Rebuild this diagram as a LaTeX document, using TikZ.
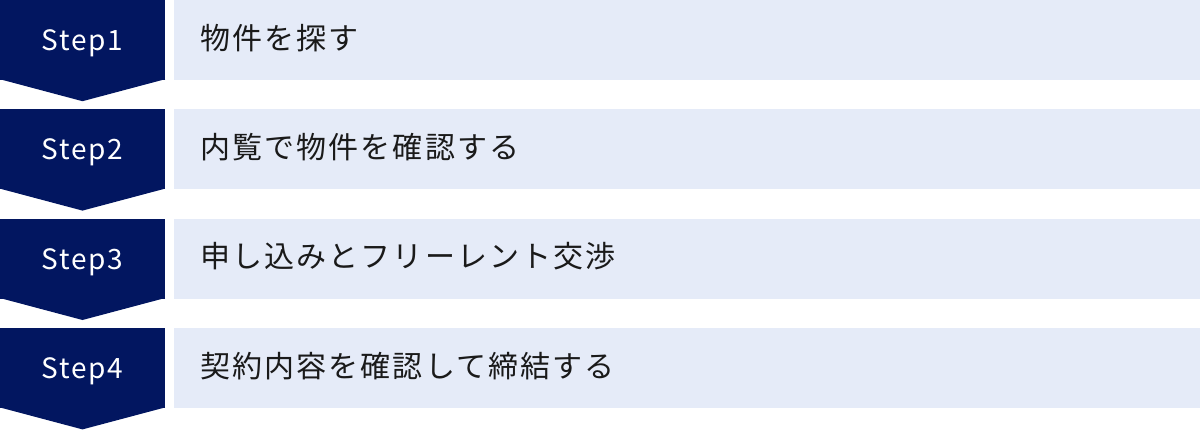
\documentclass[tikz,border=0pt]{standalone}
\usepackage{fontspec}
\usepackage{xcolor}
\usetikzlibrary{positioning}
\setmainfont{Noto Sans CJK JP}
\newfontfamily\stepfont[LetterSpace=6]{Noto Sans CJK JP}
\newfontfamily\itemfont[LetterSpace=7]{Noto Sans CJK JP}
\definecolor{stepnavy}{RGB}{2, 22, 96}
\definecolor{itemblue}{RGB}{229, 235, 248}
\definecolor{itemtext}{RGB}{26, 26, 26}

\tikzset{
  stepbox/.style={fill=stepnavy, text=white, minimum width=165pt, minimum height=80pt, inner sep=0pt, text height=20.5pt, text depth=0pt, font=\stepfont\fontsize{28}{32}\selectfont},
  itembox/.style={fill=itemblue, text=itemtext, minimum width=1026pt, minimum height=80pt, inner xsep=26pt, inner ysep=0pt, text width=974pt, align=left, text height=22pt, text depth=4pt, font=\itemfont\fontsize{30}{34}\selectfont},
  steptip/.style={fill=stepnavy}
}

\begin{document}
\begin{tikzpicture}[x=1pt,y=1pt]
  \useasboundingbox (0,0) rectangle (1200,-429);

  % step column
  \node[stepbox] (s1) at (82.5,-40) {Step1};
  \node[stepbox, below=29pt of s1] (s2) {Step2};
  \node[stepbox, below=29pt of s2] (s3) {Step3};
  \node[stepbox, below=29pt of s3] (s4) {Step4};

  \foreach \s in {s1,s2,s3,s4}
    \fill[steptip] ([yshift=1pt]\s.south west) -- ([yshift=1pt]\s.south east) -- ([yshift=-21pt]\s.south) -- cycle;

  % item column
  \node[itembox, right=9pt of s1] (t1) {物件を探す};
  \node[itembox, right=9pt of s2] (t2) {内覧で物件を確認する};
  \node[itembox, right=9pt of s3] (t3) {申し込みとフリーレント交渉};
  \node[itembox, right=9pt of s4] (t4) {契約内容を確認して締結する};
\end{tikzpicture}
\end{document}
